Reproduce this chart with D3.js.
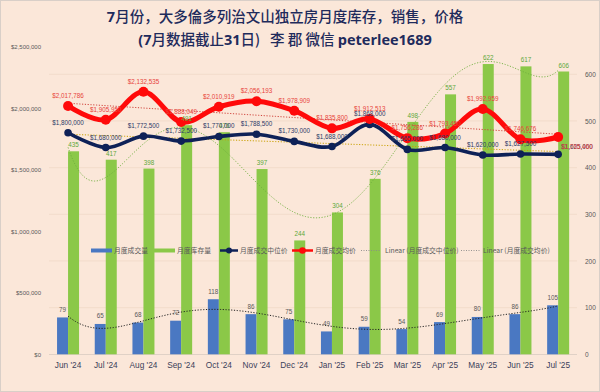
<!DOCTYPE html>
<html><head><meta charset="utf-8">
<script src="https://cdn.jsdelivr.net/npm/d3@7"></script>
<style>html,body{margin:0;padding:0;background:#FBE7D9;}svg{display:block;}</style>
</head><body>
<svg id="chart" width="600" height="392"></svg>
<script>
const categories = ["Jun '24","Jul '24","Aug '24","Sep '24","Oct '24","Nov '24","Dec '24","Jan '25","Feb '25","Mar '25","Apr '25","May '25","Jun '25","Jul '25"];
const sales = [79,65,68,72,118,86,75,49,59,54,69,80,86,105];
const inventory = [435,417,398,491,476,397,244,304,376,498,557,622,617,606];
const medianPrice = [1800000,1680000,1772500,1732500,1770000,1788500,1730000,1688000,1868000,1665000,1680000,1620000,1627500,1625000];
const avgPrice = [2017786,1905950,2132535,1888049,2010919,2056193,1978909,1835800,1912513,1756286,1793450,1992959,1746676,1765460];
const leftTicks = [0,500000,1000000,1500000,2000000,2500000];
const rightTicks = [0,100,200,300,400,500,600];
const gridTicks = [100,200,300,400,500,600];
const seriesNames = ["月度成交量","月度库存量","月度成交中位价","月度成交均价","Linear (月度成交中位价)","Linear (月度成交均价)"];
const titleLine1 = [["7","b"],["月份，大多倫多列治文山独立房月度库存，销售，价格","n"]];
const titleLine2 = [["(7","b"],["月数据截止","n"],["31","b"],["日)","n"],["   李 郡 微信 ","n"],["peterlee1689","b"]];

const svg = d3.select("#chart");
const W = 600, H = 392;
const numFont = "'Liberation Sans', Arial, sans-serif";
const cjkFont = "'Noto Sans CJK SC', 'Liberation Sans', sans-serif";

svg.append("rect").attr("x",0.5).attr("y",0.5).attr("width",W-1).attr("height",H-1)
  .attr("fill","#FBE7D9").attr("stroke","#D9CFC8");

const x = d3.scaleBand().domain(categories).range([49.2, 577]).padding(0);
const cx = c => x(c) + x.bandwidth()/2;
const yL = d3.scaleLinear().domain([0,2500000]).range([354.6, 46.5]);
const yR = d3.scaleLinear().domain([0,600]).range([354.3, 74.3]);

// gridlines
svg.append("g").selectAll("line").data(gridTicks).join("line")
  .attr("x1",49).attr("x2",577).attr("y1",d=>yR(d)).attr("y2",d=>yR(d))
  .attr("stroke","#F0D9C8").attr("stroke-width",0.8);
svg.append("line").attr("x1",49).attr("x2",577).attr("y1",354.5).attr("y2",354.5)
  .attr("stroke","#D9CCC2").attr("stroke-width",0.8);

// axes
const fmtD = d3.format("$,");
const axL = svg.append("g").attr("transform","translate(41,0)")
  .call(d3.axisLeft(yL).tickValues(leftTicks).tickFormat(d=>fmtD(d)).tickSize(0).tickPadding(0));
axL.select(".domain").remove();
axL.selectAll("text").attr("font-family",numFont).attr("font-size",6).attr("fill","#595959");
const axR = svg.append("g").attr("transform","translate(585,0)")
  .call(d3.axisRight(yR).tickValues(rightTicks).tickSize(0).tickPadding(0));
axR.select(".domain").remove();
axR.selectAll("text").attr("font-family",numFont).attr("font-size",6.5).attr("fill","#595959");
const axB = svg.append("g").attr("transform","translate(0,362)")
  .call(d3.axisBottom(x).tickSize(0).tickPadding(0));
axB.select(".domain").remove();
axB.selectAll("text").attr("font-family",numFont).attr("font-size",8.3).attr("fill","#3C3F5A").attr("dy","0.71em");

// bars
const bw = 11;
svg.append("g").selectAll("rect").data(categories).join("rect")
  .attr("x",c=>cx(c)-bw).attr("width",bw)
  .attr("y",(c,i)=>yR(sales[i])).attr("height",(c,i)=>yR(0)-yR(sales[i]))
  .attr("fill","#4A78C2");
svg.append("g").selectAll("rect").data(categories).join("rect")
  .attr("x",c=>cx(c)).attr("width",bw)
  .attr("y",(c,i)=>yR(inventory[i])).attr("height",(c,i)=>yR(0)-yR(inventory[i]))
  .attr("fill","#8BC848");

// polynomial / linear trend
function polyfit(ys, order){
  const n = ys.length, m = order+1, mid=(n+1)/2, half=(n-1)/2;
  const A = Array.from({length:m},()=>new Array(m+1).fill(0));
  for(let k=0;k<n;k++){
    const t=((k+1)-mid)/half;
    const p=[]; for(let j=0;j<m;j++) p.push(Math.pow(t,j));
    for(let r=0;r<m;r++){ for(let c=0;c<m;c++) A[r][c]+=p[r]*p[c]; A[r][m]+=p[r]*ys[k]; }
  }
  for(let col=0;col<m;col++){
    let piv=col; for(let r=col+1;r<m;r++) if(Math.abs(A[r][col])>Math.abs(A[piv][col])) piv=r;
    [A[col],A[piv]]=[A[piv],A[col]];
    for(let r=0;r<m;r++){ if(r===col) continue; const f=A[r][col]/A[col][col];
      for(let c=col;c<=m;c++) A[r][c]-=f*A[col][c]; }
  }
  const coef = A.map((row,i)=>row[m]/row[i]);
  return xv => { const t=(xv-mid)/half; let s=0; for(let j=0;j<m;j++) s+=coef[j]*Math.pow(t,j); return s; };
}
const step = x.bandwidth();
const xPos = xv => cx(categories[0]) + (xv-1)*step;
function trendPath(ys, order, yScale){
  const f = polyfit(ys, order);
  const pts = d3.range(1, ys.length+0.001, 0.05).map(v=>[xPos(v), yScale(f(v))]);
  return d3.line()(pts);
}
svg.append("path").attr("d",trendPath(inventory,6,yR)).attr("fill","none")
  .attr("stroke","#6FAF3E").attr("stroke-width",0.9).attr("stroke-dasharray","1.2,1.6");
svg.append("path").attr("d",trendPath(sales,6,yR)).attr("fill","none")
  .attr("stroke","#222").attr("stroke-width",1).attr("stroke-dasharray","1.2,1.6");
svg.append("path").attr("d",trendPath(medianPrice,1,yL)).attr("fill","none")
  .attr("stroke","#C9A000").attr("stroke-width",1).attr("stroke-dasharray","1.2,1.6");
svg.append("path").attr("d",trendPath(avgPrice,1,yL)).attr("fill","none")
  .attr("stroke","#D0423A").attr("stroke-width",1).attr("stroke-dasharray","1.2,1.6");

// lines
const curve = d3.curveCardinal.tension(0);
const line = d3.line().curve(curve);
const medPts = categories.map((c,i)=>[cx(c), yL(medianPrice[i])]);
const avgPts = categories.map((c,i)=>[cx(c), yL(avgPrice[i])]);
svg.append("path").attr("d",line(medPts)).attr("fill","none").attr("stroke","#0E2157").attr("stroke-width",3.6);
svg.append("g").selectAll("circle").data(medPts).join("circle")
  .attr("cx",d=>d[0]).attr("cy",d=>d[1]).attr("r",3.8).attr("fill","#0E2157");
svg.append("path").attr("d",line(avgPts)).attr("fill","none").attr("stroke","#FF0A0A").attr("stroke-width",5);
svg.append("g").selectAll("circle").data(avgPts).join("circle")
  .attr("cx",d=>d[0]).attr("cy",d=>d[1]).attr("r",5).attr("fill","#FF0A0A");

// data labels
const lblSize = 6.3;
svg.append("g").selectAll("text").data(categories).join("text")
  .attr("x",c=>cx(c)-bw/2).attr("y",(c,i)=>yR(sales[i])-5.5)
  .attr("text-anchor","middle").attr("font-family",numFont).attr("font-size",lblSize).attr("fill","#595959")
  .text((c,i)=>sales[i]);
svg.append("g").selectAll("text").data(categories).join("text")
  .attr("x",c=>cx(c)+bw/2).attr("y",(c,i)=>yR(inventory[i])-4)
  .attr("text-anchor","middle").attr("font-family",numFont).attr("font-size",lblSize).attr("fill","#5DA83A")
  .text((c,i)=>inventory[i]);
const last = categories.length-1;
svg.append("g").selectAll("text").data(categories).join("text")
  .attr("x",(c,i)=> i===last ? cx(c)+3 : cx(c))
  .attr("y",(c,i)=> i===last ? 148.5 : yL(medianPrice[i])-8)
  .attr("text-anchor",(c,i)=> i===last ? "start":"middle")
  .attr("font-family",numFont).attr("font-size",lblSize).attr("fill","#2B3A67")
  .text((c,i)=>fmtD(medianPrice[i]));
svg.append("g").selectAll("text").data(categories).join("text")
  .attr("x",(c,i)=> i===last ? cx(c)+3 : cx(c))
  .attr("y",(c,i)=> i===last ? 148.5 : yL(avgPrice[i])-8)
  .attr("text-anchor",(c,i)=> i===last ? "start":"middle")
  .attr("font-family",numFont).attr("font-size",lblSize).attr("fill","#E8453C")
  .text((c,i)=>fmtD(avgPrice[i]));

// legend
const lg = svg.append("g").attr("font-family",cjkFont).attr("font-size",6.8).attr("fill","#595959");
const ly = 250.5;
const legendItems = [
  {x1:91,x2:112,tx:114,type:"bar",color:"#4A78C2"},
  {x1:153,x2:175,tx:177,type:"bar",color:"#8BC848"},
  {x1:220,x2:238,tx:240,type:"line",color:"#0E2157",r:3},
  {x1:292,x2:313,tx:315,type:"line",color:"#FF0A0A",r:3.3},
  {x1:361,x2:381,tx:385,type:"dot",color:"#8A8A8A"},
  {x1:461,x2:480,tx:483,type:"dot",color:"#8A8A8A"}
];
legendItems.forEach((it,i)=>{
  if(it.type==="bar"){
    lg.append("line").attr("x1",it.x1).attr("x2",it.x2).attr("y1",ly).attr("y2",ly).attr("stroke",it.color).attr("stroke-width",4);
  } else if(it.type==="line"){
    lg.append("line").attr("x1",it.x1).attr("x2",it.x2).attr("y1",ly).attr("y2",ly).attr("stroke",it.color).attr("stroke-width",2.5);
    lg.append("circle").attr("cx",(it.x1+it.x2)/2).attr("cy",ly).attr("r",it.r).attr("fill",it.color);
  } else {
    lg.append("line").attr("x1",it.x1).attr("x2",it.x2).attr("y1",ly).attr("y2",ly).attr("stroke",it.color).attr("stroke-width",0.9).attr("stroke-dasharray","1,1.5");
  }
  lg.append("text").attr("x",it.tx).attr("y",ly).attr("dy","0.35em").text(seriesNames[i]);
});

// title
function titleLine(parts, y){
  const t = svg.append("text").attr("x",285).attr("y",y).attr("text-anchor","middle")
    .attr("font-family",cjkFont).attr("font-size",14.5).attr("fill","#1F2B5C");
  parts.forEach(p=>{
    t.append("tspan").attr("font-weight",p[1]==="b"?"bold":"500")
      .attr("font-family", p[1]==="b" ? "'Open Sans','Liberation Sans',sans-serif" : cjkFont)
      .attr("xml:space","preserve").text(p[0]);
  });
}
titleLine(titleLine1, 22);
titleLine(titleLine2, 45);
</script>
</body></html>
